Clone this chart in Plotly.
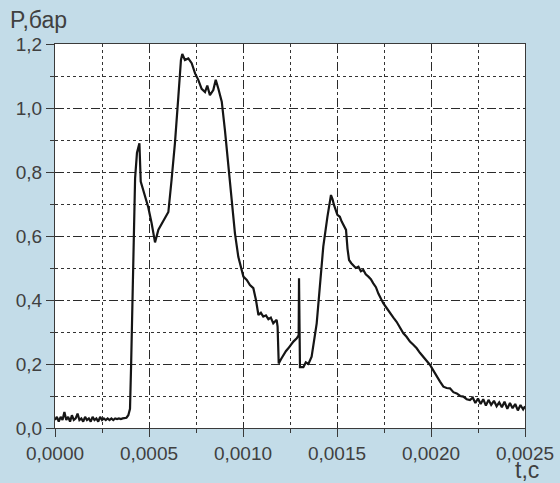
import plotly.graph_objects as go

t_s = [0.0, 0.00001, 0.00002, 0.00003, 0.00004, 0.00005, 0.00006, 0.00007, 0.00008, 0.00009,
       0.00010, 0.00011, 0.00012, 0.00013, 0.00014, 0.00015, 0.00016, 0.00017, 0.00018, 0.00019,
       0.00020, 0.00021, 0.00022, 0.00023, 0.00024, 0.00025, 0.00026, 0.00027, 0.00028, 0.00029,
       0.00030, 0.00031, 0.00032, 0.00033, 0.00034, 0.00035, 0.00036, 0.00037, 0.00038, 0.00039,
       0.000399, 0.000405, 0.000415, 0.000426, 0.000436, 0.000449, 0.000456, 0.000479, 0.000496,
       0.000514, 0.000532, 0.00055, 0.000576, 0.000603, 0.00062, 0.000638, 0.000656, 0.00067,
       0.000677, 0.000691, 0.000709, 0.000727, 0.000745, 0.000762, 0.00078, 0.000798, 0.00081,
       0.000824, 0.000842, 0.000855, 0.000869, 0.000887, 0.000904, 0.000922, 0.00094, 0.000957,
       0.000975, 0.001002, 0.00102, 0.001037, 0.001055, 0.001069, 0.001082, 0.001095, 0.001108,
       0.001122, 0.001135, 0.001148, 0.001161, 0.001179, 0.001184, 0.00119, 0.001202, 0.001214,
       0.001228, 0.001241, 0.001255, 0.001268, 0.001286, 0.001296, 0.001298, 0.001303, 0.001321,
       0.001334, 0.001348, 0.001365, 0.001392, 0.00141, 0.001427, 0.001449, 0.001468, 0.001476,
       0.001484, 0.001502, 0.001515, 0.001525, 0.001537, 0.001548, 0.001556, 0.001564, 0.001576,
       0.001587, 0.0016, 0.001614, 0.001627, 0.00164, 0.001653, 0.001667, 0.00168, 0.001693,
       0.001707, 0.00172, 0.001733, 0.001746, 0.001764, 0.001782, 0.0018, 0.001817, 0.001835,
       0.001853, 0.00187, 0.001888, 0.001906, 0.001924, 0.001941, 0.001959, 0.001977, 0.001995,
       0.002012, 0.00203, 0.002048, 0.002066, 0.002083, 0.002101, 0.002119, 0.002137, 0.002155,
       0.002172, 0.00219, 0.002207, 0.002222, 0.002236, 0.00225, 0.002264, 0.002278, 0.002292,
       0.002306, 0.00232, 0.002335, 0.002349, 0.002363, 0.002377, 0.002391, 0.002406, 0.00242,
       0.002434, 0.002448, 0.002462, 0.002476, 0.00249, 0.0025]

p_bar = [0.025, 0.035, 0.02, 0.035, 0.025, 0.05, 0.025, 0.035, 0.02, 0.04,
         0.025, 0.03, 0.045, 0.025, 0.03, 0.02, 0.035, 0.025, 0.03, 0.02,
         0.035, 0.025, 0.03, 0.02, 0.035, 0.025, 0.03, 0.025, 0.03, 0.025,
         0.03, 0.025, 0.03, 0.028, 0.03, 0.028, 0.03, 0.03, 0.032, 0.04,
         0.06, 0.2, 0.5, 0.78, 0.86, 0.89, 0.77, 0.72, 0.69,
         0.64, 0.58, 0.62, 0.645, 0.675, 0.775, 0.89, 1.035, 1.15,
         1.169, 1.15, 1.155, 1.14, 1.108, 1.088, 1.06, 1.05, 1.07,
         1.04, 1.056, 1.088, 1.06, 1.02, 0.93, 0.828, 0.713, 0.609,
         0.535, 0.473, 0.463, 0.447, 0.437, 0.4, 0.353, 0.36, 0.348,
         0.352, 0.34, 0.345, 0.327, 0.338, 0.317, 0.202, 0.215, 0.228,
         0.24, 0.249, 0.262, 0.27, 0.28, 0.29, 0.468, 0.19, 0.19,
         0.205, 0.2, 0.223, 0.327, 0.452, 0.567, 0.66, 0.728, 0.715,
         0.697, 0.666, 0.66, 0.645, 0.63, 0.619, 0.56, 0.525, 0.515,
         0.509, 0.5, 0.504, 0.49, 0.494, 0.48, 0.473, 0.465, 0.452,
         0.44, 0.42, 0.405, 0.39, 0.375, 0.358, 0.345, 0.332, 0.315,
         0.296, 0.285, 0.27, 0.26, 0.249, 0.235, 0.223, 0.21, 0.197,
         0.18, 0.16, 0.145, 0.129, 0.125, 0.124, 0.112, 0.108, 0.1,
         0.098, 0.09, 0.0875, 0.095, 0.078, 0.092, 0.075, 0.09, 0.07,
         0.088, 0.072, 0.085, 0.068, 0.08, 0.065, 0.082, 0.06, 0.078,
         0.062, 0.075, 0.055, 0.072, 0.058, 0.068, 0.061]

x_ticks = [0.0, 0.0005, 0.0010, 0.0015, 0.0020, 0.0025]
y_ticks = [0.0, 0.2, 0.4, 0.6, 0.8, 1.0, 1.2]

bg = "#c3dce8"
axcol = "#3a3a3a"
txtcol = "#404040"

fig = go.Figure()
fig.add_trace(go.Scatter(x=t_s, y=p_bar, mode="lines",
                         line=dict(color="#151515", width=2.2), showlegend=False))

fig.update_layout(
    width=560, height=483,
    paper_bgcolor=bg, plot_bgcolor="white",
    margin=dict(l=55, r=35, t=44, b=55, autoexpand=False),
    separators=", ",
    font=dict(family="Liberation Sans, Arial, sans-serif", color=txtcol, size=19),
)
common = dict(
    showline=True, linecolor=axcol, linewidth=1, mirror=True,
    ticks="outside", ticklen=8, tickcolor=axcol, automargin=False,
    showgrid=True, gridcolor="#2a2a2a", gridwidth=1, griddash="dash",
    zeroline=False, tickfont=dict(size=19, color=txtcol),
)
fig.update_xaxes(
    range=[0, 0.0025], tickvals=x_ticks, tickformat=".4f",
    minor=dict(dtick=0.00025, showgrid=True, gridcolor="#333", griddash="dot",
               ticks="outside", ticklen=4, tickcolor=axcol),
    **common,
)
fig.update_yaxes(
    range=[0, 1.2], tickvals=y_ticks, tickformat=".1f",
    minor=dict(dtick=0.1, showgrid=True, gridcolor="#333", griddash="dot",
               ticks="outside", ticklen=4, tickcolor=axcol),
    **common,
)
fig.add_annotation(text="P,бар", xref="paper", yref="paper", x=-0.1, y=1.0,
                   xanchor="left", yanchor="bottom", yshift=9, showarrow=False,
                   font=dict(size=23, color=txtcol))
fig.add_annotation(text="t,c", xref="paper", yref="paper", x=1.0, y=0,
                   xanchor="center", yanchor="top", yshift=-28, xshift=2,
                   showarrow=False, borderpad=0,
                   font=dict(size=23, color=txtcol))

fig.write_html("out.html", config={"displayModeBar": False},
               post_script="document.body.style.margin='0';document.body.style.background='%s';" % bg)
